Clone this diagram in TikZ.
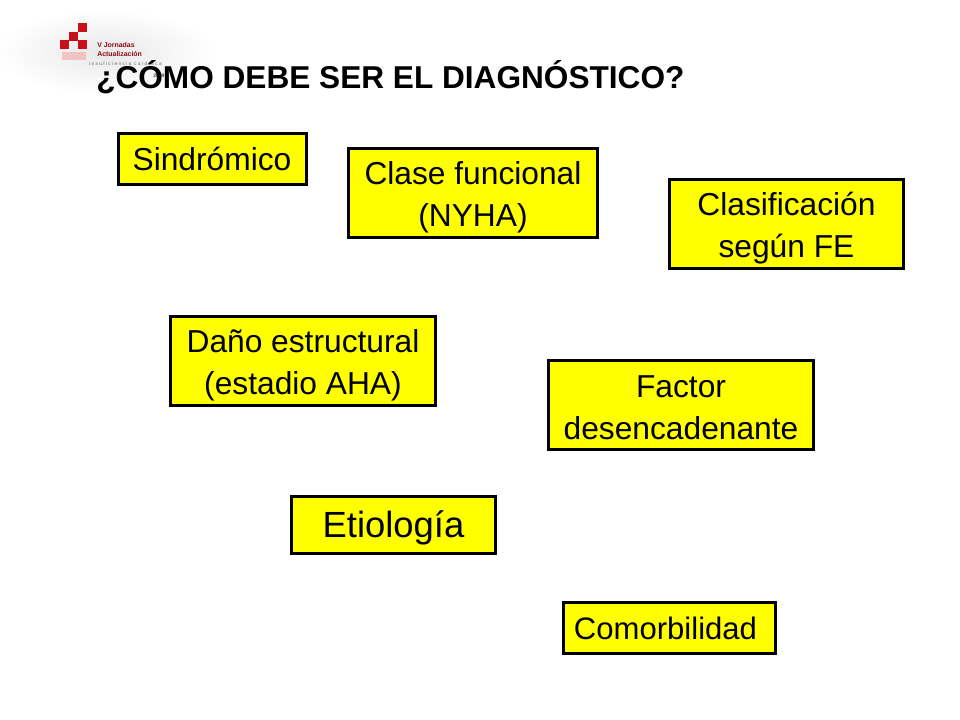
\documentclass[tikz,border=0pt]{standalone}
\usepackage{fontspec}
\setmainfont{Liberation Sans}
\definecolor{logored}{RGB}{200,16,24}
\definecolor{boxyellow}{RGB}{255,255,0}
\newcommand{\dropline}[1]{\rule{0pt}{#1}}
\tikzset{
  x=0.75pt,y=-0.75pt,
  ybox/.style={draw=black,line width=2.25pt,fill=boxyellow,align=center,inner sep=0pt,font=\fontsize{23.8}{31.5}\selectfont,text=black},
  logosq/.style={fill=logored,draw=none},
  logotxt/.style={font=\bfseries\fontsize{5.2}{6.4}\selectfont,anchor=west,inner sep=0pt},
}
\begin{document}
\begin{tikzpicture}
\useasboundingbox (0,0) rectangle (960,720);
\fill[white] (0,0) rectangle (960,720);
% logo backdrop
\shade[inner color=black!9,outer color=white] (105,52) ellipse [x radius=110, y radius=42];
% logo squares
\fill[logored!25] (62,52) rectangle (86,60);
\fill[logosq] (60,40) rectangle (69,49);
\fill[logosq] (78,40) rectangle (87,49);
\fill[logosq] (69,32) rectangle (78,41);
\fill[logosq] (78,23) rectangle (87,32);
\node[logotxt,text=logored!70!black] (lg1) at (97,45.5) {V Jornadas};
\node[logotxt,text=logored!70!black] (lg2) at (97,53.5) {Actualización};
\node[logotxt,text=black!60,font=\fontsize{3.6}{4}\selectfont] (lg3) at (89,63.5) {i n s u f i c i e n c i a\ \ c a r d í a c a};
\node[logotxt,text=black!70,font=\bfseries\fontsize{3.8}{4}\selectfont] (lg4) at (153,76) {2009};
% title
\node[anchor=west,inner sep=0pt,font=\bfseries\fontsize{23.7}{28}\selectfont] (title) at (96,77) {¿CÓMO DEBE SER EL DIAGNÓSTICO?};
% boxes
\node[ybox,minimum width=141pt,minimum height=38.25pt] (a) at (212,159) {Sindrómico};
\node[ybox,minimum width=186.75pt,minimum height=66.75pt] (b) at (473,193) {\dropline{24pt}Clase funcional\\(NYHA)};
\node[ybox,minimum width=175.5pt,minimum height=66.75pt] (c) at (786.5,224) {\dropline{24pt}Clasificación\\según FE};
\node[ybox,minimum width=198.75pt,minimum height=66.75pt] (d) at (303,361) {\dropline{24pt}Daño estructural\\(estadio AHA)};
\node[ybox,minimum width=198.75pt,minimum height=66.75pt] (e) at (681,405) {\dropline{20pt}Factor\\desencadenante};
\node[ybox,minimum width=153pt,minimum height=42.75pt,font=\fontsize{27.3}{30}\selectfont] (f) at (393.5,525) {\dropline{25pt}Etiología};
\node[ybox,minimum width=159pt,minimum height=38.25pt,font=\fontsize{23.3}{30}\selectfont] (g) at (669.5,628) {\hspace*{-3pt}Comorbilidad\hspace*{3pt}};
\end{tikzpicture}
\end{document}
